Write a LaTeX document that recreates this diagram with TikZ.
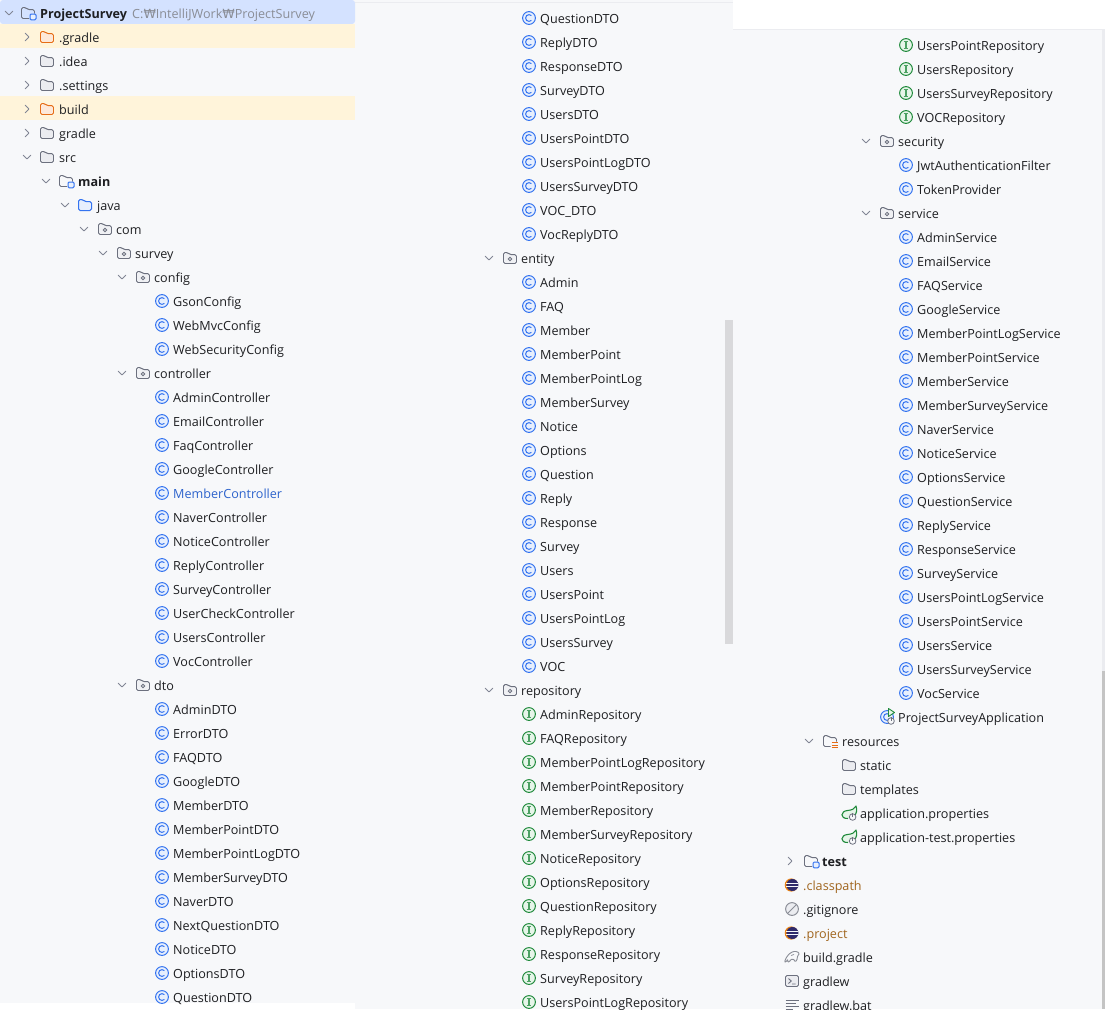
\documentclass[tikz,border=0pt]{standalone}
\usepackage{fontspec}
\setmainfont{Open Sans}
\newfontfamily\wonfont{DejaVu Sans}
\definecolor{panel}{HTML}{F7F8FA}
\definecolor{sel}{HTML}{D4E2FF}
\definecolor{warn}{HTML}{FFF4DA}
\definecolor{ink}{HTML}{1E1F22}
\definecolor{mut}{HTML}{8A8D96}
\definecolor{chev}{HTML}{818594}
\definecolor{fold}{HTML}{6C707E}
\definecolor{foldf}{HTML}{EBECF0}
\definecolor{pkgf}{HTML}{F0F1F4}
\definecolor{blu}{HTML}{3574F0}
\definecolor{bluf}{HTML}{E7EFFD}
\definecolor{grn}{HTML}{208A3C}
\definecolor{grnf}{HTML}{E6F5E9}
\definecolor{orn}{HTML}{E66D17}
\definecolor{ornf}{HTML}{FDE8D9}
\definecolor{brn}{HTML}{A0651E}
\definecolor{navy}{HTML}{2F2A6B}
\definecolor{bar}{HTML}{D9D9DB}
\tikzset{
  lbl/.style={anchor=base west,inner sep=0pt,yshift=-1pt,font=\fontsize{12.6}{15}\selectfont,text=ink},
  lblb/.style={lbl,font=\fontsize{12.6}{15}\selectfont\bfseries},
  opencv/.pic={\draw[chev,line width=.9pt,line cap=round,line join=round] (-3.8,-1.9) -- (0,1.9) -- (3.8,-1.9);},
  closecv/.pic={\draw[chev,line width=.9pt,line cap=round,line join=round] (-1.9,-3.8) -- (1.9,0) -- (-1.9,3.8);},
  cls/.pic={\draw[blu,fill=bluf,line width=1pt] (0,0) circle (6.4pt);
    \draw[blu,line width=1pt] (2.4,-2.4) arc[start angle=45,end angle=315,radius=3.4pt];},
  ifc/.pic={\draw[grn,fill=grnf,line width=1pt] (0,0) circle (6.4pt);
    \draw[grn!80!white,line width=1.1pt] (0,-3.3) -- (0,3.3) (-2.4,-3.3) -- (2.4,-3.3) (-2.4,3.3) -- (2.4,3.3);},
  fshape/.pic={\path[pic actions,rounded corners=1.6pt] (-6.5,5.5) -- (-6.5,-5.5) -- (-2.2,-5.5) -- (-.2,-3.4) -- (6.5,-3.4) -- (6.5,5.5) -- cycle;},
  fld/.pic={\pic[draw=fold,fill=foldf,line width=.9pt] {fshape};},
  ofld/.pic={\pic[draw=orn,fill=ornf,line width=.9pt] {fshape};},
  bfld/.pic={\pic[draw=blu,fill=bluf,line width=1pt] {fshape};},
  pkg/.pic={\pic[draw=fold,fill=pkgf,line width=.9pt] {fshape};
    \draw[fold,line width=.8pt] (0,1) circle (1.7pt);},
  mod/.pic={\path[draw=fold,line width=.9pt,rounded corners=1.6pt] (1,5.5) -- (-6.5,5.5) -- (-6.5,-5.5) -- (-2.2,-5.5) -- (-.2,-3.4) -- (6.5,-3.4) -- (6.5,.5);
    \draw[blu,fill=bluf,line width=1pt,rounded corners=1.2pt] (2,1) rectangle (8,6.8);},
  res/.pic={\path[draw=fold,line width=.9pt,rounded corners=1.6pt] (.5,5.5) -- (-6.5,5.5) -- (-6.5,-5.5) -- (-2.2,-5.5) -- (-.2,-3.4) -- (6.5,-3.4) -- (6.5,.5);
    \draw[orn,line width=1pt] (1.5,1.8) -- (8,1.8) (1.5,4.3) -- (8,4.3) (1.5,6.8) -- (8,6.8);},
  pwr/.pic={\draw[fold,fill=panel,line width=.8pt] (0,0) circle (3.3pt);
    \draw[fold,line width=.8pt] (0,-3.6) -- (0,0);},
  spr/.pic={\draw[grn,fill=grnf,line width=1.1pt,line join=round] (-1,5.5) .. controls (-9.5,5.8) and (-8.5,-2) .. (-1.5,-2.5) .. controls (3,-3) and (5.5,-4) .. (7,-7) .. controls (8.5,-3) and (7.5,1) .. (5,3);
    \pic at (3.6,4) {pwr};},
  app/.pic={\draw[blu,fill=bluf,line width=1pt] (0,0) circle (6.4pt);
    \draw[blu,line width=1pt] (2.4,-2.4) arc[start angle=45,end angle=315,radius=3.4pt];
    \draw[grn,fill=grnf,line width=.9pt,line join=round] (1.5,-8.5) -- (7.5,-4.5) -- (1.5,-.5) -- cycle;
    \pic at (4,4) {pwr};},
  ecl/.pic={\fill[orn!85!yellow] (-.7,0) circle (6.6pt);
    \fill[navy] (.4,0) circle (6pt);
    \draw[panel,line width=.7pt] (-5.6,-1.6) -- (6.4,-1.6) (-5.6,1.6) -- (6.4,1.6);},
  ign/.pic={\draw[mut,fill=foldf,line width=1pt] (0,0) circle (6.4pt);
    \draw[mut,line width=1pt] (-4.4,4.4) -- (4.4,-4.4);},
  grd/.pic={\draw[mut,line width=.9pt,line join=round,rounded corners=1pt] (-7.5,5) -- (-6,1) -- (-3,-3) -- (1,-5.5) -- (5,-5.5) -- (7.5,-3.5) -- (5.5,-1) -- (5,3) -- (3,5) -- (2,2.2) -- (-1.5,2.5) -- (-2.5,5) -- (-4.5,5) -- (-4,2) -- (-6,5) -- cycle;
    \draw[mut,line width=.7pt] (-1,-1.5) -- (2,-2.5);},
  trm/.pic={\draw[fold,fill=foldf,line width=.9pt,rounded corners=1.5pt] (-6.5,-5.5) rectangle (6.5,5.5);
    \draw[fold,line width=.9pt] (-3.5,-2.5) -- (-.8,0) -- (-3.5,2.5) (0,3) -- (3.5,3);},
  txtf/.pic={\draw[fold,line width=.9pt] (-6.5,-5) -- (6.5,-5) (-6.5,-1.7) -- (3.5,-1.7) (-6.5,1.6) -- (6.5,1.6) (-6.5,4.9) -- (1,4.9);}
}
\begin{document}
\begin{tikzpicture}[x=1pt,y=-1pt]
\useasboundingbox (0,0) rectangle (1105,1009);
\fill[white] (0,0) rectangle (1105,1009);
% panels
\fill[panel] (0,0) rectangle (355,1003);
\fill[panel] (355,0) rectangle (733,1009);
\fill[foldf] (355,1.5) rectangle (733,2.8);
\fill[panel] (733,29) rectangle (1105,1009);
\fill[foldf] (733,28.5) rectangle (1105,29.8);
% highlights
\fill[sel,rounded corners=3pt] (0,0) rectangle (355,24);
\fill[warn] (0,24) rectangle (355,48);
\fill[warn] (0,96) rectangle (355,120);
% scrollbars
\fill[bar] (725,320) rectangle (732.5,644);
\fill[foldf] (1102,30) rectangle (1105,671);
\fill[black!23] (1102,671) rectangle (1105,1009);
% left column head
\pic at (9,13) {opencv};  \pic at (28,13) {mod};
\node[lblb] (ps) at (40,17.5) {ProjectSurvey};
\node[lbl,text=mut] (pspath) at (132,17.5) {C:{\wonfont ₩}IntelliJWork{\wonfont ₩}ProjectSurvey};
\pic at (27,37) {closecv}; \pic at (47,37) {ofld}; \node[lbl] (f1) at (59,41.5) {.gradle};
\pic at (27,61) {closecv}; \pic at (47,61) {fld};  \node[lbl] (f2) at (59,65.5) {.idea};
\pic at (27,85) {closecv}; \pic at (47,85) {fld};  \node[lbl] (f3) at (59,89.5) {.settings};
\pic at (27,109) {closecv};\pic at (47,109) {ofld};\node[lbl] (f4) at (59,113.5) {build};
\pic at (27,133) {closecv};\pic at (47,133) {fld}; \node[lbl] (f5) at (59,137.5) {gradle};
\pic at (27,157) {opencv}; \pic at (47,157) {fld}; \node[lbl] (f6) at (59,161.5) {src};
\pic at (46,181) {opencv}; \pic at (66,181) {mod}; \node[lblb] (f7) at (78,185.5) {main};
\pic at (65,205) {opencv}; \pic at (85,205) {bfld};\node[lbl] (f8) at (97,209.5) {java};
\pic at (84,229) {opencv}; \pic at (105,229) {pkg};\node[lbl] (f9) at (116,233.5) {com};
\pic at (103,253) {opencv};\pic at (124,253) {pkg};\node[lbl] (f10) at (135,257.5) {survey};
\pic at (122,277) {opencv};\pic at (143,277) {pkg};\node[lbl] (f11) at (154,281.5) {config};
\foreach \t [count=\i from 0] in {GsonConfig,WebMvcConfig,WebSecurityConfig}{
  \pic at (162,301+24*\i) {cls}; \node[lbl] (cfg\i) at (173,305.5+24*\i) {\t};}
\pic at (122,373) {opencv};\pic at (143,373) {pkg};\node[lbl] (f12) at (154,377.5) {controller};
\foreach \t [count=\i from 0] in {AdminController,EmailController,FaqController,GoogleController,MemberController,NaverController,NoticeController,ReplyController,SurveyController,UserCheckController,UsersController,VocController}{
  \pic at (162,397+24*\i) {cls};
  \ifnum\i=4 \node[lbl,text=blu!85!black] (ctl\i) at (173,401.5+24*\i) {\t};
  \else \node[lbl] (ctl\i) at (173,401.5+24*\i) {\t};\fi}
\pic at (122,685) {opencv};\pic at (143,685) {pkg};\node[lbl] (f13) at (154,689.5) {dto};
\foreach \t [count=\i from 0] in {AdminDTO,ErrorDTO,FAQDTO,GoogleDTO,MemberDTO,MemberPointDTO,MemberPointLogDTO,MemberSurveyDTO,NaverDTO,NextQuestionDTO,NoticeDTO,OptionsDTO,QuestionDTO}{
  \pic at (162,709+24*\i) {cls}; \node[lbl] (dtoa\i) at (173,713.5+24*\i) {\t};}
% middle column
\foreach \t [count=\i from 0] in {QuestionDTO,ReplyDTO,ResponseDTO,SurveyDTO,UsersDTO,UsersPointDTO,UsersPointLogDTO,UsersSurveyDTO,VOC\_DTO,VocReplyDTO}{
  \pic at (529,18+24*\i) {cls}; \node[lbl] (dtob\i) at (540,22.5+24*\i) {\t};}
\pic at (489,258) {opencv};\pic at (510,258) {pkg};\node[lbl] (f14) at (521,262.5) {entity};
\foreach \t [count=\i from 0] in {Admin,FAQ,Member,MemberPoint,MemberPointLog,MemberSurvey,Notice,Options,Question,Reply,Response,Survey,Users,UsersPoint,UsersPointLog,UsersSurvey,VOC}{
  \pic at (529,282+24*\i) {cls}; \node[lbl] (ent\i) at (540,286.5+24*\i) {\t};}
\pic at (489,690) {opencv};\pic at (510,690) {pkg};\node[lbl] (f15) at (521,694.5) {repository};
\foreach \t [count=\i from 0] in {AdminRepository,FAQRepository,MemberPointLogRepository,MemberPointRepository,MemberRepository,MemberSurveyRepository,NoticeRepository,OptionsRepository,QuestionRepository,ReplyRepository,ResponseRepository,SurveyRepository,UsersPointLogRepository}{
  \pic at (529,714+24*\i) {ifc}; \node[lbl] (repa\i) at (540,718.5+24*\i) {\t};}
% right column
\foreach \t [count=\i from 0] in {UsersPointRepository,UsersRepository,UsersSurveyRepository,VOCRepository}{
  \pic at (906,45+24*\i) {ifc}; \node[lbl] (repb\i) at (917,49.5+24*\i) {\t};}
\pic at (866,141) {opencv};\pic at (887,141) {pkg};\node[lbl] (f16) at (898,145.5) {security};
\foreach \t [count=\i from 0] in {JwtAuthenticationFilter,TokenProvider}{
  \pic at (906,165+24*\i) {cls}; \node[lbl] (sec\i) at (917,169.5+24*\i) {\t};}
\pic at (866,213) {opencv};\pic at (887,213) {pkg};\node[lbl] (f17) at (898,217.5) {service};
\foreach \t [count=\i from 0] in {AdminService,EmailService,FAQService,GoogleService,MemberPointLogService,MemberPointService,MemberService,MemberSurveyService,NaverService,NoticeService,OptionsService,QuestionService,ReplyService,ResponseService,SurveyService,UsersPointLogService,UsersPointService,UsersService,UsersSurveyService,VocService}{
  \pic at (906,237+24*\i) {cls}; \node[lbl] (svc\i) at (917,241.5+24*\i) {\t};}
\pic at (887,717) {app}; \node[lbl] (psa) at (898,721.5) {ProjectSurveyApplication};
\pic at (809,741) {opencv};\pic at (830,741) {res};\node[lbl] (f18) at (842,745.5) {resources};
\pic at (849,765) {fld}; \node[lbl] (f19) at (860,769.5) {static};
\pic at (849,789) {fld}; \node[lbl] (f20) at (860,793.5) {templates};
\pic at (849,813) {spr}; \node[lbl] (f21) at (860,817.5) {application.properties};
\pic at (849,837) {spr}; \node[lbl] (f22) at (860,841.5) {application-test.properties};
\pic at (790,861) {closecv};\pic at (811,861) {mod};\node[lblb] (f23) at (822,865.5) {test};
\pic at (792,885) {ecl}; \node[lbl,text=brn] (f24) at (803,889.5) {.classpath};
\pic at (792,909) {ign}; \node[lbl] (f25) at (803,913.5) {.gitignore};
\pic at (792,933) {ecl}; \node[lbl,text=brn] (f26) at (803,937.5) {.project};
\pic at (792,957) {grd}; \node[lbl] (f27) at (803,961.5) {build.gradle};
\pic at (792,981) {trm}; \node[lbl] (f28) at (803,985.5) {gradlew};
\pic at (792,1005) {txtf}; \node[lbl] (f29) at (803,1009.5) {gradlew.bat};
\end{tikzpicture}
\end{document}
